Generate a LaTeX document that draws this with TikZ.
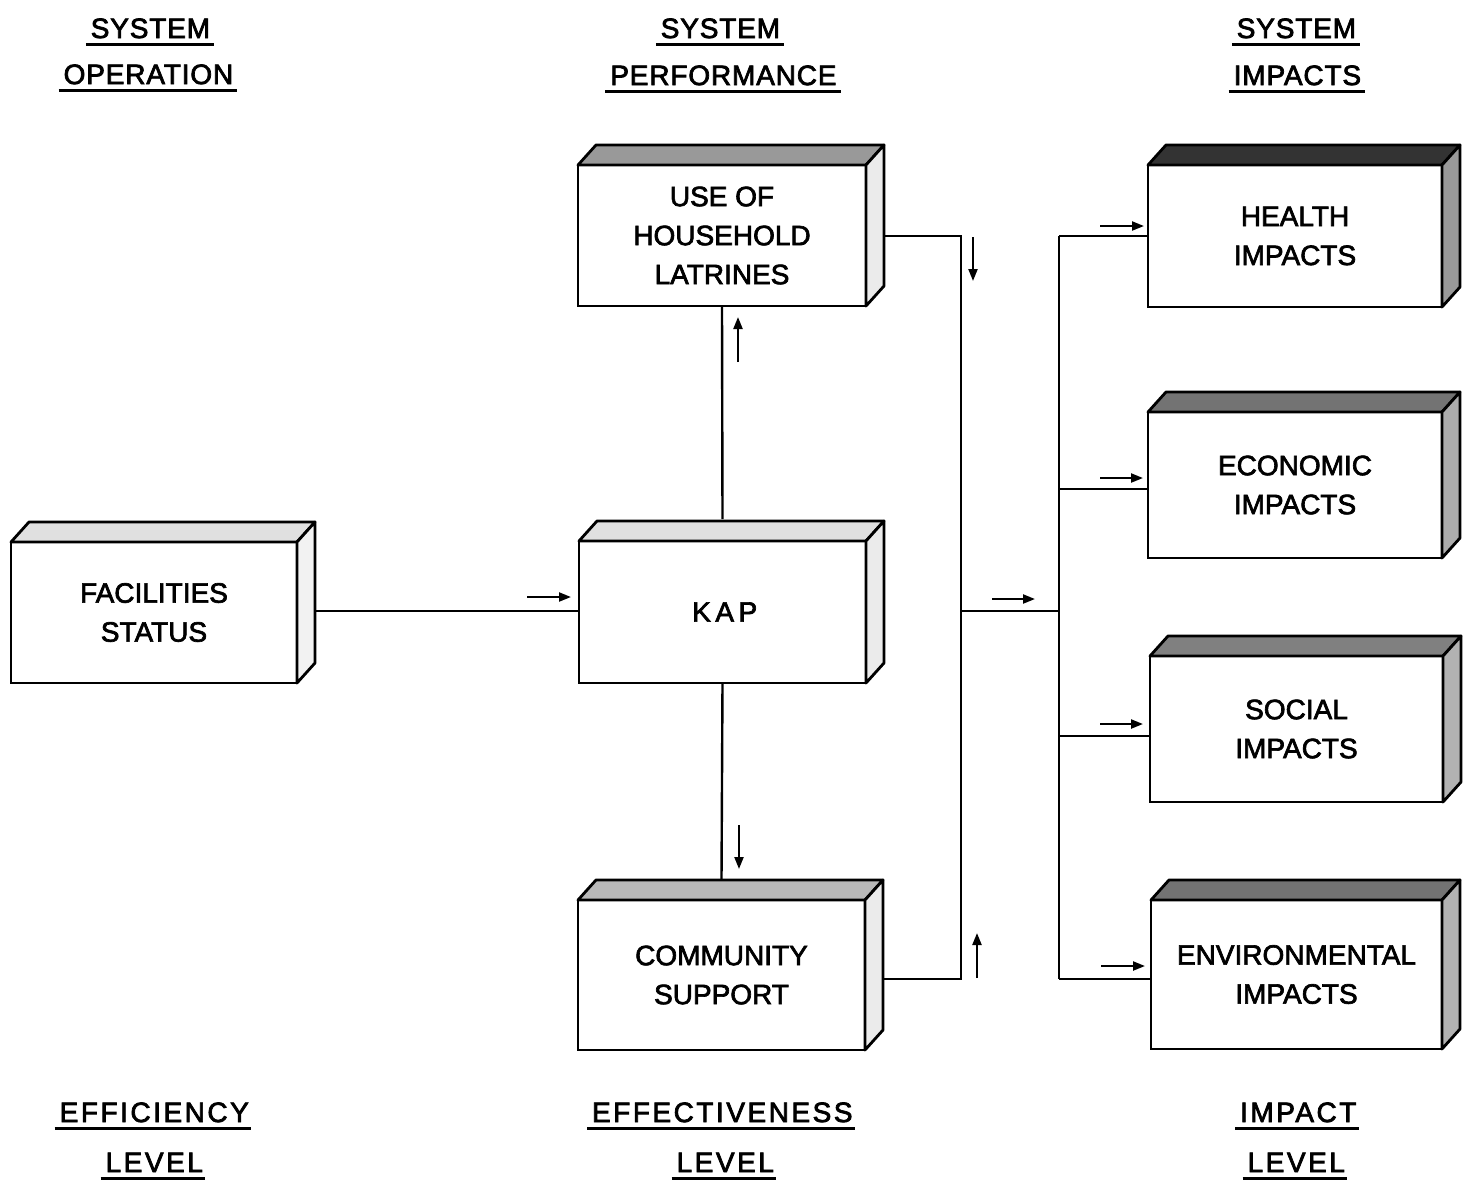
\documentclass[tikz,border=0pt]{standalone}
\usepackage{fontspec}
\setmainfont{Liberation Sans}[FakeBold=2.4]
\newfontfamily\topfont{Liberation Sans}[LetterSpace=3,FakeBold=2.6]
\newfontfamily\botfont{Liberation Sans}[LetterSpace=9,FakeBold=2.6]
\newfontfamily\widefont{Liberation Sans}[LetterSpace=16,FakeBold=2.4]
\usetikzlibrary{calc,arrows.meta}
\tikzset{
  front/.style={draw=black, line width=1.4pt, fill=white, inner sep=0pt, outer sep=0pt,
    align=center, font=\fontsize{14}{19.5}\selectfont},
  face/.style={draw=black, line width=1.4pt, line join=round},
  title/.style={anchor=base, inner xsep=2.5pt, inner ysep=3.2pt, text depth=0pt, outer sep=0pt},
  ulline/.style={line width=1.5pt},
  wire/.style={line width=1.2pt},
  flow/.style={line width=1.1pt, -{Triangle[length=6pt,width=4.5pt]}},
}
\newcommand\boxfaces[3]{%
  \filldraw[face, fill=#2] (#1.north west) -- ++(18,-20) -- ($(#1.north east)+(18,-20)$) -- (#1.north east) -- cycle;
  \filldraw[face, fill=#3] (#1.north east) -- ++(18,-20) -- ($(#1.south east)+(18,-20)$) -- (#1.south east) -- cycle;
}
\newcommand\tw[1]{#1\kern-0.42pt}
\newcommand\bw[1]{#1\kern-1.26pt}
\begin{document}
\begin{tikzpicture}[x=0.5pt,y=-0.5pt]
\useasboundingbox[fill=white] (0,0) rectangle (1464,1185);

% titles
\begin{scope}[font=\topfont\fontsize{14}{20}\selectfont]
\node[title] (t1) at (150,38) {\tw{SYSTEM}};
\node[title] (t2) at (148,84) {\tw{OPERATION}};
\node[title] (t3) at (720,38) {\tw{SYSTEM}};
\node[title] (t4) at (723,85) {\tw{PERFORMANCE}};
\node[title] (t5) at (1296,38) {\tw{SYSTEM}};
\node[title] (t6) at (1297,85) {\tw{IMPACTS}};
\end{scope}
\begin{scope}[font=\botfont\fontsize{14}{20}\selectfont]
\node[title] (b1) at (153,1122) {\bw{EFFICIENCY}};
\node[title] (b2) at (153,1172) {\bw{LEVEL}};
\node[title] (b3) at (721,1122) {\bw{EFFECTIVENESS}};
\node[title] (b4) at (724,1172) {\bw{LEVEL}};
\node[title] (b5) at (1297,1122) {\bw{IMPACT}};
\node[title] (b6) at (1295,1172) {\bw{LEVEL}};
\end{scope}
\foreach \n in {t1,t2,t3,t4,t5,t6,b1,b2,b3,b4,b5,b6}
  \draw[ulline] (\n.south west) -- (\n.south east);

% boxes (front faces)
\node[front, minimum width=144pt, minimum height=70.5pt] (use) at (722,235.5) {USE OF\\HOUSEHOLD\\LATRINES};
\node[front, minimum width=143pt, minimum height=70.5pt] (fac) at (154,612.5) {FACILITIES\\STATUS};
\node[front, minimum width=143.5pt, minimum height=71pt] (kap) at (722.5,612) {\widefont KAP\kern-2.24pt};
\node[front, minimum width=143.5pt, minimum height=75pt] (com) at (721.5,975) {COMMUNITY\\SUPPORT};
\node[front, minimum width=147pt, minimum height=71pt] (hea) at (1295,236) {HEALTH\\IMPACTS};
\node[front, minimum width=147pt, minimum height=73pt] (eco) at (1295,485) {ECONOMIC\\IMPACTS};
\node[front, minimum width=146.5pt, minimum height=73pt] (soc) at (1296.5,729) {SOCIAL\\IMPACTS};
\node[front, minimum width=145.5pt, minimum height=74.5pt] (env) at (1296.5,974.5) {ENVIRONMENTAL\\IMPACTS};

\boxfaces{use}{black!40}{black!8}
\boxfaces{fac}{black!12}{black!5}
\boxfaces{kap}{black!12}{black!8}
\boxfaces{com}{black!28}{black!8}
\boxfaces{hea}{black!80}{black!40}
\boxfaces{eco}{black!55}{black!32}
\boxfaces{soc}{black!50}{black!30}
\boxfaces{env}{black!55}{black!30}

% connectors
\coordinate (useR) at ($(use.east)+(18,0.5)$);
\coordinate (comR) at ($(com.east)+(18,4)$);
\coordinate (busL) at (961,611);
\coordinate (busR) at (1059,611);
\draw[wire] ($(fac.east)+(18,-1.5)$) -- (kap.west |- 0,611);
\draw[wire] (use.south) -- ($(kap.north)+(0,-22)$);
\draw[wire] (kap.south) -- ($(com.north)+(0,-20)$);
\draw[wire] (useR) -| (busL |- comR) -- (comR);
\draw[wire] (busL) -- (busR);
\draw[wire] (busR |- hea.west) -- (busR |- 0,979);
\draw[wire] (busR |- hea.west) -- (hea.west);
\draw[wire] (busR |- 0,489) -- (eco.west |- 0,489);
\draw[wire] (busR |- 0,736) -- (soc.west |- 0,736);
\draw[wire] (busR |- 0,979) -- (env.west |- 0,979);

% flow arrows
\draw[flow] (527,597) -- (571,597);
\draw[flow] (738,362) -- (738,317);
\draw[flow] (739,825) -- (739,869);
\draw[flow] (973,237) -- (973,281);
\draw[flow] (977,978) -- (977,933);
\draw[flow] (992,599) -- (1035,599);
\draw[flow] (1100,226) -- (1144,226);
\draw[flow] (1100,478) -- (1143,478);
\draw[flow] (1100,724) -- (1143,724);
\draw[flow] (1101,966) -- (1145,966);
\end{tikzpicture}
\end{document}
